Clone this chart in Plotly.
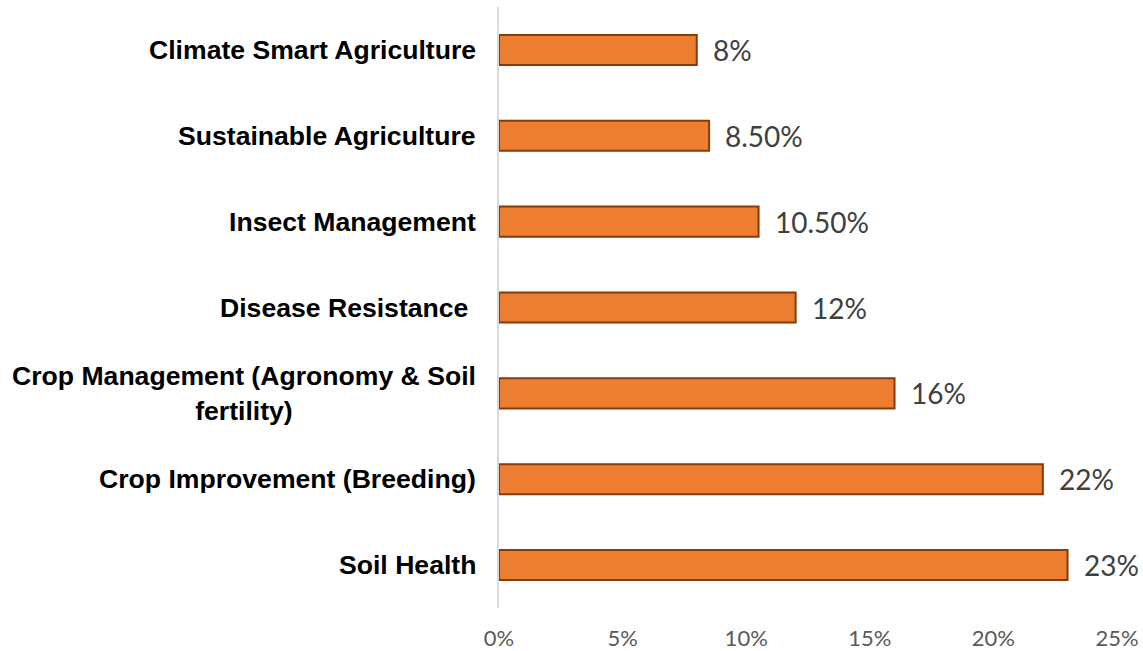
import plotly.graph_objects as go

categories = [
    "Soil Health",
    "Crop Improvement (Breeding)",
    "Crop Management (Agronomy & Soil<br>fertility)",
    "Disease Resistance ",
    "Insect Management",
    "Sustainable Agriculture",
    "Climate Smart Agriculture",
]
values = [23, 22, 16, 12, 10.5, 8.5, 8]
value_labels = ["23%", "22%", "16%", "12%", "10.50%", "8.50%", "8%"]
tick_values = [0, 5, 10, 15, 20, 25]
tick_labels = ["0%", "5%", "10%", "15%", "20%", "25%"]

fig = go.Figure()
fig.add_trace(go.Bar(
    y=list(range(len(categories))),
    x=values,
    orientation="h",
    marker=dict(color="#ED7D31", line=dict(color="#843C0C", width=2)),
    hoverinfo="skip",
))

for i, c in enumerate(categories):
    fig.add_annotation(
        x=0, xref="paper", xanchor="right", xshift=-21,
        y=i, yref="y", yanchor="middle",
        text="<b>" + c + "</b>", showarrow=False, align="center",
        font=dict(family="Liberation Sans, Arial, sans-serif", size=26.6, color="#000000"),
    )
    fig.add_annotation(
        x=values[i], xref="x", xanchor="left", xshift=14,
        y=i, yref="y", yanchor="middle",
        text=value_labels[i], showarrow=False,
        font=dict(family="Lato, Open Sans, sans-serif", size=28, color="#404040"),
    )

fig.update_layout(
    width=1143, height=651,
    margin=dict(l=499, r=26, t=7, b=43, autoexpand=False),
    plot_bgcolor="white", paper_bgcolor="white",
    bargap=0.65, showlegend=False,
)
fig.update_xaxes(
    range=[0, 25], tickvals=tick_values, ticktext=tick_labels,
    showgrid=False, zeroline=False, showline=False, automargin=False,
    tickfont=dict(family="Lato, Open Sans, sans-serif", size=22, color="#595959"),
    ticklabelstandoff=15,
)
fig.update_yaxes(
    range=[-0.5, len(categories) - 0.5], showticklabels=False,
    showgrid=False, zeroline=False, automargin=False,
    showline=True, linecolor="#D9D9D9", linewidth=2,
)

fig.write_html(
    "out.html",
    config={"displayModeBar": False},
    post_script=(
        "document.body.style.margin='0';"
        "document.body.style.overflow='hidden';"
        "document.documentElement.style.overflow='hidden';"
    ),
)
